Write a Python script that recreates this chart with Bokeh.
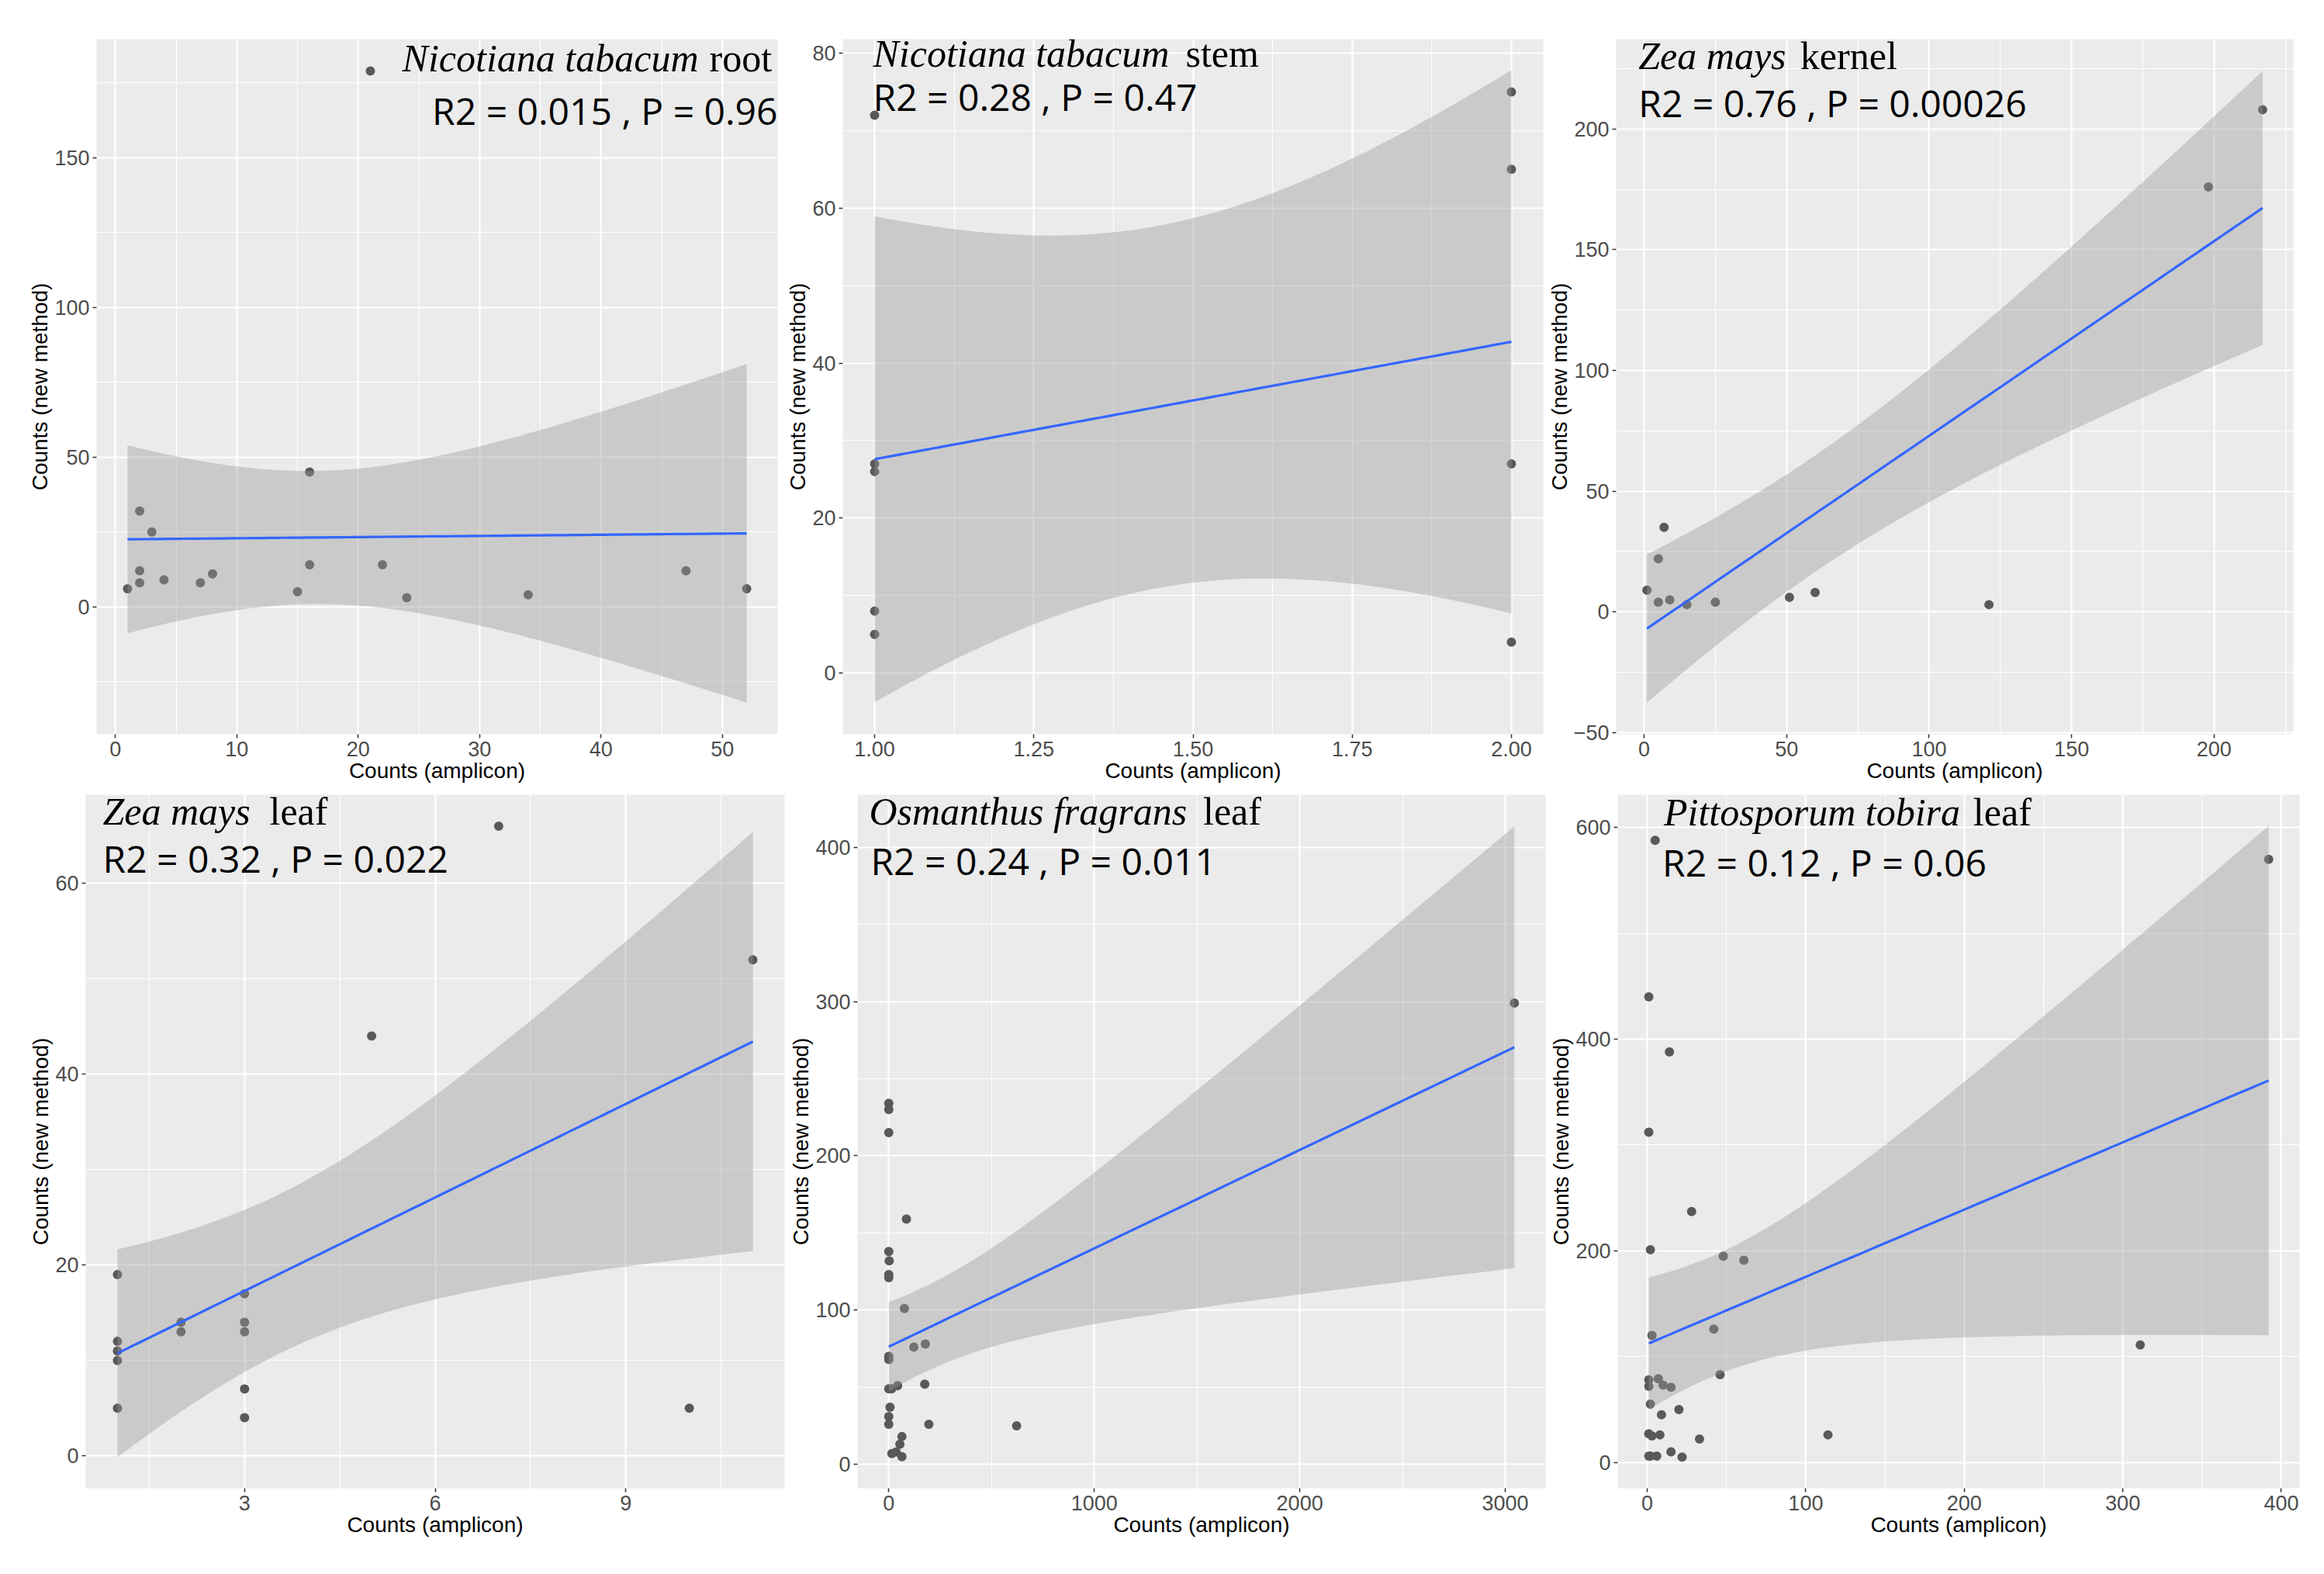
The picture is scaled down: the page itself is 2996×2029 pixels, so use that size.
import numpy as np
from bokeh.plotting import figure
from bokeh.layouts import row, column
from bokeh.models import Range1d, FixedTicker, Label
from bokeh.embed import file_html
from bokeh.resources import INLINE

# ---------------- data ----------------
root_x = [1, 2, 2, 2, 3, 4, 7, 8, 15, 16, 16, 21, 22, 24, 34, 47, 52]
root_y = [6, 32, 12, 8, 25, 9, 8, 11, 5, 45, 14, 179, 14, 3, 4, 12, 6]

stem_x = [1, 1, 1, 1, 1, 2, 2, 2, 2]
stem_y = [72, 27, 26, 8, 5, 75, 65, 27, 4]

kernel_x = [1, 5, 5, 7, 9, 15, 25, 51, 60, 121, 198, 217]
kernel_y = [9, 22, 4, 35, 5, 3, 4, 6, 8, 3, 176, 208]

zleaf_x = [1, 1, 1, 1, 1, 2, 2, 3, 3, 3, 3, 3, 5, 7, 10, 11]
zleaf_y = [19, 12, 11, 10, 5, 14, 13, 17, 14, 13, 7, 4, 44, 66, 5, 52]

osm_x = [0, 0, 0, 86, 0, 2, 0, 0, 76, 0, 0, 122, 178, 0, 14, 43, 175, 6,
         0, 0, 195, 622, 64, 54, 15, 36, 64, 3044]
osm_y = [234, 230, 215, 159, 138, 132, 123, 121, 101, 70, 68, 76, 78, 49, 49,
         51, 52, 37, 31, 26, 26, 25, 18, 13, 7, 8, 5, 299]

pit_x = [5, 1, 14, 1, 28, 2, 48, 61, 3, 42, 46, 1, 1, 7, 10, 15, 2, 9, 20, 1,
         3, 8, 33, 114, 15, 1, 2, 6, 22, 311, 392]
pit_y = [588, 440, 388, 312, 237, 201, 195, 191, 120, 126, 83, 78, 72, 79, 73,
         71, 55, 45, 50, 27, 25, 26, 22, 26, 10, 6, 6, 6, 5, 111, 570]

# tick values / labels
root_xticks = [0, 10, 20, 30, 40, 50]
root_xlabels = ["0", "10", "20", "30", "40", "50"]
root_yticks = [0, 50, 100, 150]
root_ylabels = ["0", "50", "100", "150"]

stem_xticks = [1.0, 1.25, 1.5, 1.75, 2.0]
stem_xlabels = ["1.00", "1.25", "1.50", "1.75", "2.00"]
stem_yticks = [0, 20, 40, 60, 80]
stem_ylabels = ["0", "20", "40", "60", "80"]

kernel_xticks = [0, 50, 100, 150, 200]
kernel_xlabels = ["0", "50", "100", "150", "200"]
kernel_yticks = [-50, 0, 50, 100, 150, 200]
kernel_ylabels = ["\u221250", "0", "50", "100", "150", "200"]

zleaf_xticks = [3, 6, 9]
zleaf_xlabels = ["3", "6", "9"]
zleaf_yticks = [0, 20, 40, 60]
zleaf_ylabels = ["0", "20", "40", "60"]

osm_xticks = [0, 1000, 2000, 3000]
osm_xlabels = ["0", "1000", "2000", "3000"]
osm_yticks = [0, 100, 200, 300, 400]
osm_ylabels = ["0", "100", "200", "300", "400"]

pit_xticks = [0, 100, 200, 300, 400]
pit_xlabels = ["0", "100", "200", "300", "400"]
pit_yticks = [0, 200, 400, 600]
pit_ylabels = ["0", "200", "400", "600"]

titles_italic = ["Nicotiana tabacum", "Nicotiana tabacum", "Zea mays",
                 "Zea mays", "Osmanthus fragrans", "Pittosporum tobira"]
titles_plain = ["root", "stem", "kernel", "leaf", "leaf", "leaf"]
stats = ["R2 = 0.015 , P = 0.96", "R2 = 0.28 , P = 0.47",
         "R2 = 0.76 , P = 0.00026", "R2 = 0.32 , P = 0.022",
         "R2 = 0.24 , P = 0.011", "R2 = 0.12 , P = 0.06"]

XLAB = "Counts (amplicon)"
YLAB = "Counts (new method)"


# ---------------- linear fit with 95% confidence band (geom_smooth lm) ----------------
def t975(df):
    z = 1.959963984540054
    g1 = (z**3 + z) / 4
    g2 = (5 * z**5 + 16 * z**3 + 3 * z) / 96
    g3 = (3 * z**7 + 19 * z**5 + 17 * z**3 - 15 * z) / 384
    g4 = (79 * z**9 + 776 * z**7 + 1482 * z**5 - 1920 * z**3 - 945 * z) / 92160
    return z + g1 / df + g2 / df**2 + g3 / df**3 + g4 / df**4


def lm_band(x, y):
    x = np.asarray(x, float)
    y = np.asarray(y, float)
    n = len(x)
    xm, ym = x.mean(), y.mean()
    sxx = ((x - xm) ** 2).sum()
    b = ((x - xm) * (y - ym)).sum() / sxx
    a = ym - b * xm
    s = np.sqrt(((y - a - b * x) ** 2).sum() / (n - 2))
    xs = np.linspace(x.min(), x.max(), 80)
    fit = a + b * xs
    se = s * np.sqrt(1.0 / n + (xs - xm) ** 2 / sxx)
    t = t975(n - 2)
    return xs, fit, fit - t * se, fit + t * se


# ---------------- layout / style settings ----------------
BG = "#EBEBEB"
PT = "#595959"
BLUE = "#3366FF"

# annotation positions: pixel offsets from the frame's top-left corner
panels = [
    dict(x=root_x, y=root_y, xr=(-1.55, 54.55), yr=(-42.6, 189.6),
         xt=root_xticks, xl=root_xlabels, xm=[5, 15, 25, 35, 45],
         yt=root_yticks, yl=root_ylabels, ym=[-25, 25, 75, 125, 175],
         w=1008, h=1020, mbl=124, mbr=6, mbt=50, mbb=74,
         align="right", it=(776, 24), pl=(790, 24), st=(878, 92)),
    dict(x=stem_x, y=stem_y, xr=(0.95, 2.05), yr=(-7.9, 81.8),
         xt=stem_xticks, xl=stem_xlabels, xm=[1.125, 1.375, 1.625, 1.875],
         yt=stem_yticks, yl=stem_ylabels, ym=[10, 30, 50, 70],
         w=983, h=1020, mbl=78, mbr=2, mbt=50, mbb=74,
         align="left", it=(39, 18), pl=(442, 18), st=(39, 74)),
    dict(x=kernel_x, y=kernel_y, xr=(-9.8, 227.8), yr=(-50.7, 237.2),
         xt=kernel_xticks, xl=kernel_xlabels, xm=[25, 75, 125, 175, 225],
         yt=kernel_yticks, yl=kernel_ylabels, ym=[-25, 25, 75, 125, 175, 225],
         w=995, h=1020, mbl=86, mbr=30, mbt=50, mbb=74,
         align="left", it=(29, 21), pl=(239, 21), st=(29, 82)),
    dict(x=zleaf_x, y=zleaf_y, xr=(0.5, 11.5), yr=(-3.4, 69.3),
         xt=zleaf_xticks, xl=zleaf_xlabels, xm=[1.5, 4.5, 7.5, 10.5],
         yt=zleaf_yticks, yl=zleaf_ylabels, ym=[10, 30, 50],
         w=1014, h=986, mbl=110, mbr=3, mbt=4, mbb=88,
         align="left", it=(22, 21), pl=(237, 21), st=(22, 82)),
    dict(x=osm_x, y=osm_y, xr=(-152, 3196), yr=(-15.5, 434.0),
         xt=osm_xticks, xl=osm_xlabels, xm=[500, 1500, 2500],
         yt=osm_yticks, yl=osm_ylabels, ym=[50, 150, 250, 350],
         w=980, h=986, mbl=88, mbr=2, mbt=4, mbb=88,
         align="left", it=(15, 21), pl=(447, 21), st=(17, 85)),
    dict(x=pit_x, y=pit_y, xr=(-18.6, 411.5), yr=(-24.5, 631.0),
         xt=pit_xticks, xl=pit_xlabels, xm=[50, 150, 250, 350],
         yt=pit_yticks, yl=pit_ylabels, ym=[100, 300, 500],
         w=992, h=986, mbl=84, mbr=22, mbt=4, mbb=88,
         align="left", it=(60, 22), pl=(462, 22), st=(58, 87)),
]


def px_to_data(c, dx, dy):
    fw = c["w"] - c["mbl"] - c["mbr"]
    fh = c["h"] - c["mbt"] - c["mbb"]
    x0, x1 = c["xr"]
    y0, y1 = c["yr"]
    return x0 + dx * (x1 - x0) / fw, y1 - dy * (y1 - y0) / fh


figs = []
for i, c in enumerate(panels):
    p = figure(width=c["w"], height=c["h"], output_backend="svg",
               toolbar_location=None,
               x_range=Range1d(*c["xr"]), y_range=Range1d(*c["yr"]),
               min_border_left=c["mbl"], min_border_right=c["mbr"],
               min_border_top=c["mbt"], min_border_bottom=c["mbb"])
    p.background_fill_color = BG
    p.border_fill_color = "white"
    p.outline_line_color = None

    p.xaxis.ticker = FixedTicker(ticks=c["xt"], minor_ticks=c["xm"])
    p.yaxis.ticker = FixedTicker(ticks=c["yt"], minor_ticks=c["ym"])
    p.xaxis.major_label_overrides = {t: l for t, l in zip(c["xt"], c["xl"])}
    p.yaxis.major_label_overrides = {t: l for t, l in zip(c["yt"], c["yl"])}

    for ax in (p.xaxis, p.yaxis):
        ax.axis_line_color = None
        ax.major_tick_line_color = "#333333"
        ax.major_tick_line_width = 1.5
        ax.major_tick_out = 5
        ax.major_tick_in = 0
        ax.minor_tick_out = 0
        ax.minor_tick_in = 0
        ax.major_label_text_font = "Liberation Sans"
        ax.major_label_text_font_size = "27px"
        ax.major_label_text_color = "#4D4D4D"
        ax.major_label_standoff = 4
        ax.axis_label_text_font = "Liberation Sans"
        ax.axis_label_text_font_size = "28px"
        ax.axis_label_text_font_style = "normal"
        ax.axis_label_text_color = "black"
        ax.axis_label_standoff = 0
    p.xaxis.axis_label = XLAB
    p.yaxis.axis_label = YLAB

    for g in (p.xgrid, p.ygrid):
        g.grid_line_color = "white"
        g.grid_line_width = 2.2
        g.minor_grid_line_color = "white"
        g.minor_grid_line_width = 1.1
    p.xgrid.ticker = p.xaxis.ticker
    p.ygrid.ticker = p.yaxis.ticker

    xs, fit, lo, hi = lm_band(c["x"], c["y"])
    p.scatter(c["x"], c["y"], size=12, color=PT, line_color=None)
    p.varea(x=xs, y1=lo, y2=hi, fill_color="#999999", fill_alpha=0.4)
    p.line(xs, fit, line_color=BLUE, line_width=3.2)

    al = "right" if c["align"] == "right" else "left"
    ax_, ay_ = px_to_data(c, *c["it"])
    p.add_layout(Label(x=ax_, y=ay_, text=titles_italic[i], text_align=al,
                       text_baseline="alphabetic", text_font="Liberation Serif",
                       text_font_style="italic", text_font_size="50px",
                       text_color="black"))
    bx_, by_ = px_to_data(c, *c["pl"])
    p.add_layout(Label(x=bx_, y=by_, text=titles_plain[i], text_align="left",
                       text_baseline="alphabetic", text_font="Liberation Serif",
                       text_font_size="50px", text_color="black"))
    sx_, sy_ = px_to_data(c, *c["st"])
    p.add_layout(Label(x=sx_, y=sy_, text=stats[i], text_align=al,
                       text_baseline="alphabetic", text_font="Open Sans",
                       text_font_size="48px", text_color="black"))
    figs.append(p)

layout = column(row(*figs[:3]), row(*figs[3:]))
open("out.html", "w").write(file_html(layout, INLINE))
